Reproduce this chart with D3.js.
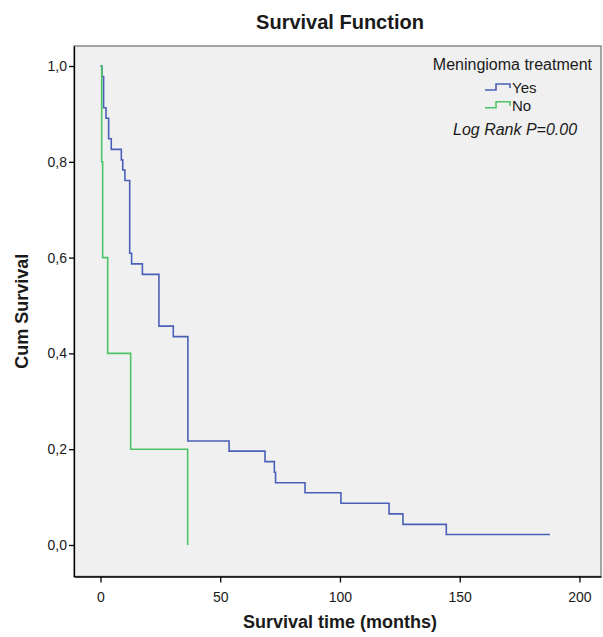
<!DOCTYPE html>
<html>
<head>
<meta charset="utf-8">
<script src="https://cdn.jsdelivr.net/npm/d3@7"></script>
<style>
  body { margin: 0; background: #fff; }
  text { font-family: "Liberation Sans", Arial, sans-serif; fill: #1a1a1a; }
</style>
</head>
<body>
<svg width="603" height="637"></svg>
<script>
// Kaplan-Meier steps (months, cumulative survival)
const yesTimes = [0, 0.6, 1.3, 2.3, 3.4, 4.5, 8.7, 9.3, 10.2, 12.2, 13.0, 17.5, 24.4, 30.4, 36.5, 53.7, 68.7, 72.6, 73.1, 85.4, 100.4, 120.5, 126.3, 144.4, 187.7];
const yesSurv = [1, 0.978, 0.913, 0.891, 0.848, 0.826, 0.804, 0.783, 0.761, 0.609, 0.587, 0.565, 0.457, 0.435, 0.217, 0.196, 0.174, 0.152, 0.130, 0.109, 0.087, 0.065, 0.043, 0.022, 0.022];
const noTimes = [0, 0.5, 0.9, 3.0, 12.6, 36.4];
const noSurv = [1, 0.8, 0.6, 0.4, 0.2, 0];

const groups = ['Yes', 'No'];
const colors = ['#4a60b8', '#4cc466'];
const xTicks = [0, 50, 100, 150, 200];
const yTicks = [0, 0.2, 0.4, 0.6, 0.8, 1.0];

const svg = d3.select('svg');
const plotLeft = 74, plotRight = 601, plotTop = 46, plotBottom = 576.5;

const x = d3.scaleLinear().domain([-11.06, 209]).range([plotLeft, plotRight]);
const y = d3.scaleLinear().domain([-0.0658, 1.0418]).range([plotBottom, plotTop]);

// plot background and frame
svg.append('rect')
  .attr('x', plotLeft).attr('y', plotTop)
  .attr('width', plotRight - plotLeft).attr('height', plotBottom - plotTop)
  .attr('fill', '#f0f0f0')
  .attr('stroke', '#888')
  .attr('stroke-width', 1.5);

const xAxis = svg.append('g')
  .attr('transform', `translate(0,${plotBottom})`)
  .call(d3.axisBottom(x).tickValues(xTicks).tickSize(6).tickSizeOuter(0));
const yAxis = svg.append('g')
  .attr('transform', `translate(${plotLeft},0)`)
  .call(d3.axisLeft(y).tickValues(yTicks).tickSize(5).tickSizeOuter(0)
    .tickFormat(d => d3.format('.1f')(d).replace('.', ',')));

[xAxis, yAxis].forEach(g => {
  g.selectAll('path, line').attr('stroke', '#000').attr('stroke-width', 1.3);
  g.selectAll('text')
    .style('font-family', '"Liberation Sans", Arial, sans-serif')
    .style('font-size', '14px')
    .attr('fill', '#1a1a1a');
});
xAxis.selectAll('text').attr('dy', '1.2em');
yAxis.selectAll('text').attr('x', -7);

// survival curves
const line = d3.line()
  .x(d => x(d[0]))
  .y(d => y(d[1]))
  .curve(d3.curveStepAfter);

const series = [d3.zip(yesTimes, yesSurv), d3.zip(noTimes, noSurv)];
svg.append('g')
  .selectAll('path')
  .data(series)
  .join('path')
  .attr('d', line)
  .attr('fill', 'none')
  .attr('stroke', (d, i) => colors[i])
  .attr('stroke-width', 1.6);

// titles
svg.append('text')
  .attr('x', 340).attr('y', 29)
  .attr('text-anchor', 'middle')
  .style('font-size', '20px').style('font-weight', 'bold')
  .text('Survival Function');

svg.append('text')
  .attr('x', 340).attr('y', 628)
  .attr('text-anchor', 'middle')
  .style('font-size', '18px').style('font-weight', 'bold')
  .text('Survival time (months)');

svg.append('text')
  .attr('transform', `translate(28,${(plotTop + plotBottom) / 2}) rotate(-90)`)
  .attr('text-anchor', 'middle')
  .style('font-size', '18px').style('font-weight', 'bold')
  .text('Cum Survival');

// legend
const legend = svg.append('g');
legend.append('text')
  .attr('x', 592).attr('y', 70)
  .attr('text-anchor', 'end')
  .style('font-size', '16px')
  .text('Meningioma treatment');

const item = legend.selectAll('g.item')
  .data(groups)
  .join('g')
  .attr('class', 'item')
  .attr('transform', (d, i) => `translate(485,${90 + i * 17.7})`);
item.append('path')
  .attr('d', 'M0,0H11V-6H25V-2')
  .attr('fill', 'none')
  .attr('stroke', (d, i) => colors[i])
  .attr('stroke-width', 1.6);
item.append('text')
  .attr('x', 27).attr('y', 3)
  .style('font-size', '15px')
  .text(d => d);

legend.append('text')
  .attr('x', 453).attr('y', 135)
  .style('font-size', '16px').style('font-style', 'italic')
  .text('Log Rank P=0.00');
</script>
</body>
</html>
